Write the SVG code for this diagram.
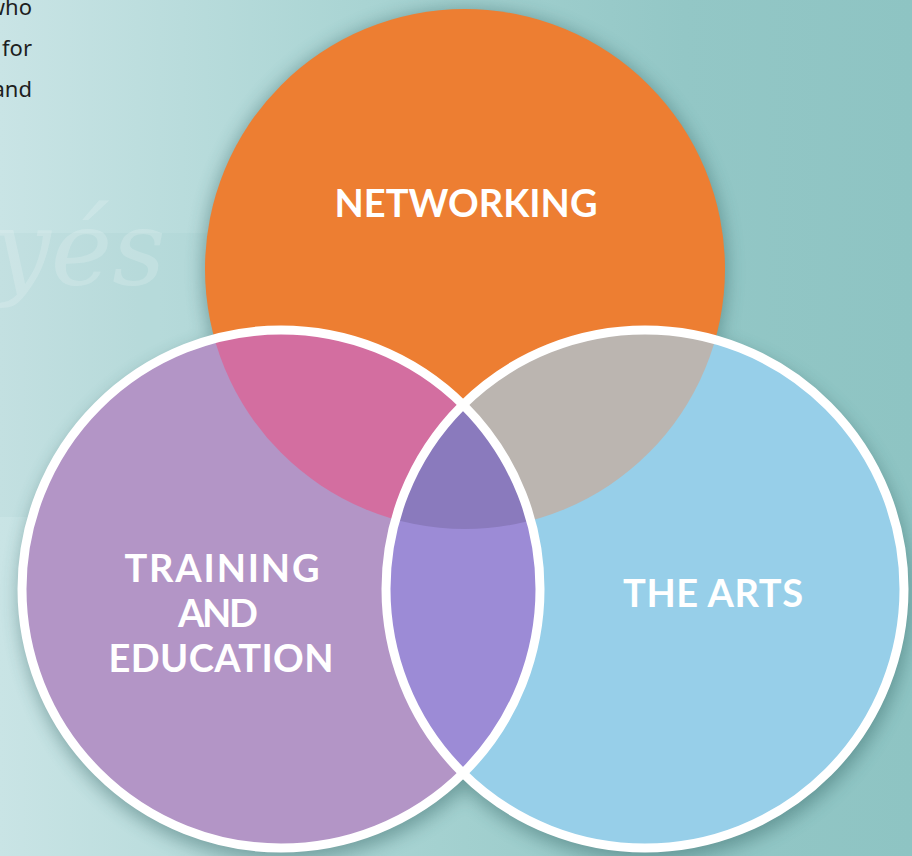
<svg xmlns="http://www.w3.org/2000/svg" width="912" height="856" viewBox="0 0 912 856">
  <style>
    .label { font-family: Lato, "Open Sans", "DejaVu Sans", sans-serif; font-weight: 700; font-size: 38px; fill: #ffffff; text-anchor: middle; }
    .body-text { font-family: "Noto Sans", "Open Sans", "DejaVu Sans", sans-serif; font-size: 22px; fill: #1e1e1e; text-anchor: end; }
    .ring { fill: none; stroke: #ffffff; stroke-width: 9; }
    .shadow { fill: #2f5f5e; }
  </style>
  <defs>
    <linearGradient id="bg" x1="0" y1="0" x2="1" y2="0">
      <stop offset="0" stop-color="#c9e4e5"/>
      <stop offset="0.4" stop-color="#a9d4d3"/>
      <stop offset="0.75" stop-color="#93c7c6"/>
      <stop offset="1" stop-color="#8ec4c3"/>
    </linearGradient>
    <filter id="soft" x="-20%" y="-20%" width="140%" height="140%">
      <feGaussianBlur stdDeviation="9"/>
    </filter>
    <clipPath id="clip-orange"><circle cx="465" cy="269" r="260"/></clipPath>
    <clipPath id="clip-blue"><circle cx="645" cy="589" r="259"/></clipPath>
    <clipPath id="clip-purple"><circle cx="281" cy="589" r="259"/></clipPath>
  </defs>

  <!-- backdrop -->
  <rect width="912" height="856" fill="url(#bg)"/>
  <rect x="0" y="233" width="470" height="284" fill="#6aa9a9" opacity="0.06"/>
  <text x="-8" y="285" font-family="'DejaVu Serif', serif" font-style="italic" font-size="104" fill="#ffffff" opacity="0.17">yés</text>

  <!-- paragraph fragment -->
  <g id="paragraph">
    <text class="body-text" x="32" y="15">who</text>
    <text class="body-text" x="32" y="56">for</text>
    <text class="body-text" x="32" y="97">and</text>
  </g>

  <!-- soft shadows under the circles -->
  <g id="shadows" filter="url(#soft)" opacity="0.45">
    <circle class="shadow" cx="465" cy="271" r="262"/>
    <circle class="shadow" cx="283" cy="597" r="264"/>
    <circle class="shadow" cx="647" cy="597" r="264"/>
  </g>

  <g id="node-networking">
    <circle cx="465" cy="269" r="260" fill="#ed7e32"/>
  </g>

  <g id="node-training">
    <circle cx="281" cy="589" r="259" fill="#b395c6"/>
  </g>

  <g id="node-arts">
    <circle cx="645" cy="589" r="259" fill="#97cfe9"/>
  </g>

  <!-- overlap regions -->
  <g id="overlaps">
    <g clip-path="url(#clip-orange)">
      <circle cx="281" cy="589" r="259" fill="#d36ea0"/>
      <circle cx="645" cy="589" r="259" fill="#bbb5b0"/>
    </g>
    <g clip-path="url(#clip-blue)">
      <circle cx="281" cy="589" r="259" fill="#9c8bd6"/>
      <g clip-path="url(#clip-orange)">
        <circle cx="281" cy="589" r="259" fill="#8a7abd"/>
      </g>
    </g>
  </g>

  <!-- white rims -->
  <g id="rims">
    <circle class="ring" cx="281" cy="589" r="259"/>
    <circle class="ring" cx="645" cy="589" r="259"/>
  </g>

  <g id="labels">
    <text class="label" x="466" y="217" textLength="263" lengthAdjust="spacing">NETWORKING</text>
    <text class="label" x="222" y="582" textLength="195" lengthAdjust="spacing">TRAINING</text>
    <text class="label" x="218" y="627" textLength="80" lengthAdjust="spacing">AND</text>
    <text class="label" x="221" y="672" textLength="225" lengthAdjust="spacing">EDUCATION</text>
    <text class="label" x="713" y="607" textLength="180" lengthAdjust="spacing">THE ARTS</text>
  </g>
</svg>
